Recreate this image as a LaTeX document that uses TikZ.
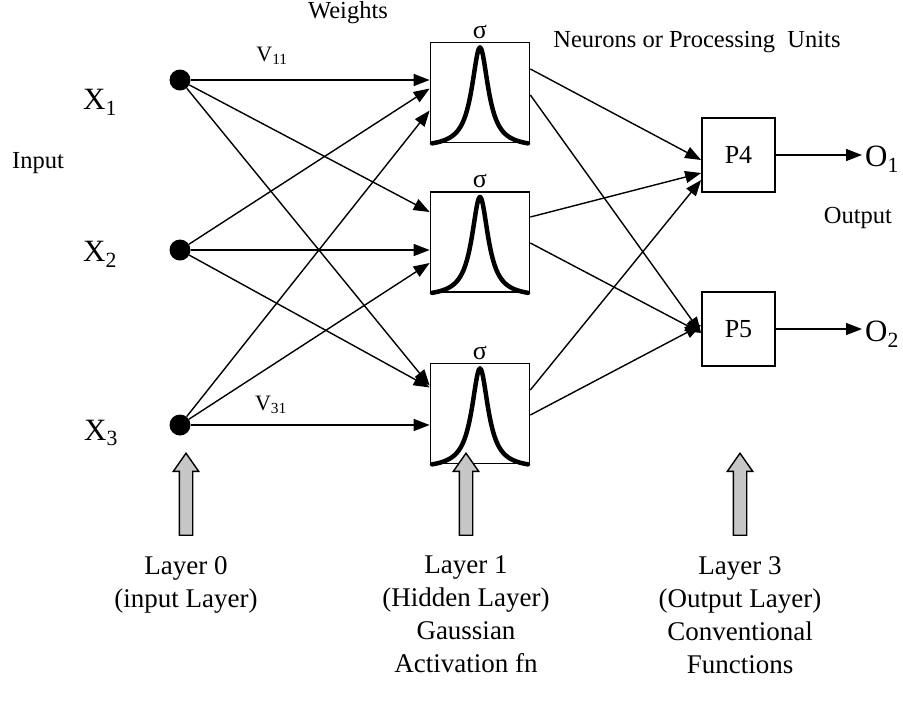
\documentclass[tikz,border=0pt]{standalone}
\usepackage{fontspec}
\setmainfont{Liberation Serif}
\usetikzlibrary{arrows.meta,positioning,calc,shapes.arrows}
\tikzset{
  unit/.style={circle, fill=black, inner sep=0pt, minimum size=21pt},
  hid/.style={rectangle, draw=black, line width=1.7pt,
    minimum width=99pt, minimum height=100pt, inner sep=0pt},
  outbox/.style={rectangle, draw=black, line width=1.7pt,
    minimum width=73pt, minimum height=74pt, inner sep=0pt,
    font=\fontsize{26}{30}\selectfont},
  wt/.style={-{Triangle[length=16pt,width=12pt]}, line width=1.4pt},
  gauss/.style={line width=4.5pt, line cap=round, line join=round},
  lbl/.style={font=\fontsize{24.5}{28}\selectfont, inner sep=0pt},
  xlbl/.style={font=\fontsize{31}{34}\selectfont, inner sep=0pt},
  vlbl/.style={font=\fontsize{22}{24}\selectfont, inner sep=0pt},
  sig/.style={font=\fontsize{26}{28}\selectfont, inner sep=0pt},
  layer/.style={font=\fontsize{27}{33}\selectfont, align=center, inner sep=0pt},
  uparrow/.style={single arrow, draw=black, line width=1.4pt, fill=gray!45,
    shape border rotate=90, minimum height=82pt, minimum width=25pt,
    single arrow head extend=6pt, single arrow tip angle=70, inner sep=6pt}
}
\begin{document}
\begin{tikzpicture}[x=1pt, y=-1pt]
  \useasboundingbox[fill=white] (0,0) rectangle (903,724);

  % --- input layer
  \node[unit] (x1) at (180,80)  {};
  \node[unit] (x2) at (180,250) {};
  \node[unit] (x3) at (180,425) {};
  \node[xlbl] (lx1) at (100,102) {X\textsubscript{1}};
  \node[xlbl] (lx2) at (100,254) {X\textsubscript{2}};
  \node[xlbl] (lx3) at (101,433) {X\textsubscript{3}};
  \node[lbl]  (inp) at (38,163)  {Input};

  % --- hidden layer (gaussian units)
  \node[hid] (h1) at (480,92.5)  {};
  \node[hid] (h2) at (480,242)   {};
  \node[hid] (h3) at (480,413.5) {};
  \foreach \h in {h1,h2,h3} {
    \node[sig, above=3pt of \h] (s\h) {σ};
    \draw[gauss, shift={(\h.south)}] plot[domain=-48:48, samples=81, smooth]
      (\x, {-96*(1/(1+(\x/10)^2)-0.0416)/0.9584});
  }

  % --- output layer
  \node[outbox] (p4) at (738.5,155) {P4};
  \node[outbox] (p5) at (738.5,329) {P5};
  \node[xlbl, anchor=west, inner sep=3pt] (o1) at (862,159) {O\textsubscript{1}};
  \node[xlbl, anchor=west, inner sep=3pt] (o2) at (862,334) {O\textsubscript{2}};

  % --- labels
  \node[lbl]  (wts) at (348,13)  {Weights};
  \node[vlbl] (v11) at (272,56)  {V\textsubscript{11}};
  \node[vlbl] (v31) at (271,405) {V\textsubscript{31}};
  \node[lbl]  (npu) at (697,42)  {Neurons or Processing\ \ Units};
  \node[lbl]  (outp) at (858,218) {Output};

  % --- weights: inputs to hidden
  \draw[wt] (x1) -- ([yshift=12.5pt]h1.west);
  \draw[wt] (x2) -- ([yshift=4pt]h1.west);
  \draw[wt] (x3) -- ([yshift=-18pt]h1.west);
  \draw[wt] (x1) -- ([yshift=30pt]h2.west);
  \draw[wt] (x2) -- ([yshift=-8pt]h2.west);
  \draw[wt] (x3) -- ([yshift=-21pt]h2.west);
  \draw[wt] (x1) -- ([yshift=28pt]h3.west);
  \draw[wt] (x2) -- ([yshift=26pt]h3.west);
  \draw[wt] (x3) -- ([yshift=-11.5pt]h3.west);

  % --- hidden to output
  \draw[wt] ([yshift=23.5pt]h1.east) -- ([yshift=-5pt]p4.west);
  \draw[wt] ([yshift=25pt]h2.east)   -- ([yshift=-18pt]p4.west);
  \draw[wt] ([yshift=23.5pt]h3.east) -- ([yshift=-25pt]p4.west);
  \draw[wt] ([yshift=-2.5pt]h1.east) -- ([yshift=-4pt]p5.west);
  \draw[wt] ([yshift=-1pt]h2.east)   -- ([yshift=-4pt]p5.west);
  \draw[wt] ([yshift=-1.5pt]h3.east) -- ([yshift=4pt]p5.west);

  % --- outputs
  \draw[wt] (p4.east) -- (p4.east -| o1.west);
  \draw[wt] (p5.east) -- (p5.east -| o2.west);

  % --- layer captions
  \node[uparrow] (a0) at (186,499) {};
  \node[uparrow] (a1) at (466,499) {};
  \node[uparrow] (a3) at (740,499) {};
  \node[layer, below=20pt of a0] (l0) {Layer 0\\(input Layer)};
  \node[layer, below=20pt of a1] (l1) {Layer 1\\(Hidden Layer)\\Gaussian\\Activation fn};
  \node[layer, below=20pt of a3] (l3) {Layer 3\\(Output Layer)\\Conventional\\Functions};
\end{tikzpicture}
\end{document}
